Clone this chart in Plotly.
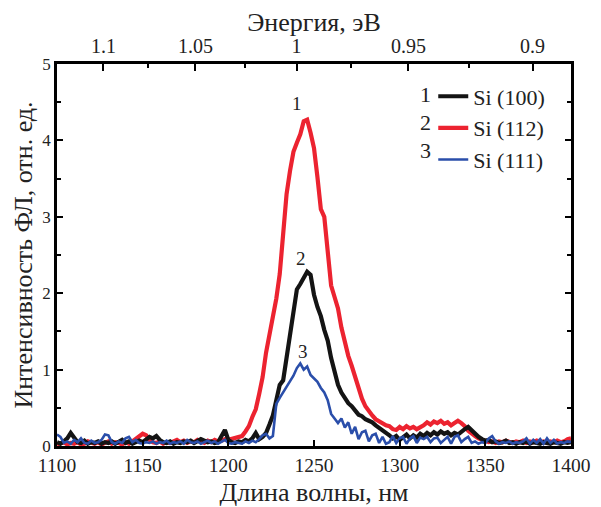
import plotly.graph_objects as go

wavelength = list(range(1100, 1401, 2))

si_100 = [0.05, 0.03, 0.06, 0.1, 0.17, 0.12, 0.05, 0.04, 0.07, 0.03,
          0.05, 0.04, 0.06, 0.03, 0.05, 0.04, 0.06, 0.03, 0.05, 0.08,
          0.04, 0.06, 0.03, 0.05, 0.07, 0.05, 0.08, 0.12, 0.1, 0.13,
          0.08, 0.05, 0.04, 0.06, 0.03, 0.05, 0.04, 0.06, 0.05, 0.07,
          0.04, 0.06, 0.09, 0.07, 0.05, 0.06, 0.04, 0.05, 0.12, 0.21,
          0.08, 0.05, 0.04, 0.06, 0.05, 0.08, 0.06, 0.1, 0.17, 0.09,
          0.12, 0.17, 0.28, 0.4, 0.6, 0.8, 0.86, 1.15, 1.4, 1.72,
          2.05, 2.12, 2.2, 2.28, 2.24, 1.98, 1.82, 1.7, 1.52, 1.38,
          1.15, 0.95, 0.8, 0.7, 0.62, 0.56, 0.52, 0.46, 0.41, 0.39,
          0.35, 0.33, 0.31, 0.27, 0.24, 0.2, 0.18, 0.14, 0.1, 0.13,
          0.08, 0.12, 0.15, 0.1, 0.14, 0.11, 0.16, 0.13, 0.17, 0.14,
          0.18, 0.15, 0.19, 0.16, 0.18, 0.14, 0.17, 0.15, 0.19, 0.22,
          0.25, 0.2, 0.16, 0.12, 0.09, 0.07, 0.08, 0.05, 0.06, 0.04,
          0.05, 0.07, 0.04, 0.05, 0.03, 0.05, 0.04, 0.06, 0.03, 0.05,
          0.04, 0.03, 0.05, 0.04, 0.03, 0.05, 0.04, 0.03, 0.05, 0.04,
          0.05]

si_112 = [0.02, 0.03, 0.05, 0.02, 0.04, 0.03, 0.05, 0.02, 0.03, 0.06,
          0.04, 0.03, 0.05, 0.02, 0.04, 0.06, 0.03, 0.05, 0.04, 0.02,
          0.05, 0.03, 0.06, 0.09, 0.13, 0.16, 0.14, 0.08, 0.05, 0.04,
          0.06, 0.03, 0.05, 0.04, 0.06, 0.08, 0.05, 0.07, 0.04, 0.06,
          0.05, 0.08, 0.06, 0.04, 0.07, 0.05, 0.08, 0.06, 0.07, 0.09,
          0.08, 0.09, 0.1, 0.11, 0.13, 0.19, 0.26, 0.38, 0.48, 0.68,
          0.9, 1.22, 1.45, 1.68, 1.93, 2.25, 2.75, 3.3, 3.6, 3.85,
          3.97, 4.08, 4.25, 4.27, 4.1, 3.9, 3.52, 3.1, 3.0, 2.5,
          2.1, 1.95, 1.8, 1.55, 1.35, 1.18, 1.05, 0.9, 0.75, 0.62,
          0.52, 0.45, 0.4, 0.35, 0.32, 0.3, 0.27, 0.26, 0.22, 0.21,
          0.25, 0.22, 0.26, 0.23, 0.25, 0.22, 0.24, 0.27, 0.31, 0.28,
          0.32, 0.3, 0.33, 0.29, 0.31, 0.27, 0.3, 0.33, 0.3, 0.26,
          0.2, 0.16, 0.13, 0.1, 0.08, 0.07, 0.05, 0.06, 0.04, 0.06,
          0.05, 0.07, 0.05, 0.04, 0.06, 0.05, 0.07, 0.04, 0.06, 0.05,
          0.07, 0.05, 0.06, 0.04, 0.06, 0.05, 0.07, 0.05, 0.06, 0.09,
          0.1]

si_111 = [0.15, 0.12, 0.04, 0.06, 0.03, 0.08, 0.05, 0.1, 0.04, 0.03,
          0.07, 0.04, 0.05, 0.08, 0.15, 0.14, 0.05, 0.03, 0.06, 0.04,
          0.1, 0.12, 0.05, 0.08, 0.04, 0.03, 0.05, 0.04, 0.06, 0.03,
          0.05, 0.04, 0.07, 0.03, 0.05, 0.04, 0.06, 0.03, 0.08, 0.05,
          0.04, 0.06, 0.03, 0.05, 0.07, 0.04, 0.06, 0.03, 0.05, 0.08,
          0.04, 0.03, 0.05, 0.04, 0.03, 0.06, 0.04, 0.07, 0.05, 0.09,
          0.14, 0.16, 0.1, 0.13, 0.55, 0.63, 0.7, 0.78, 0.85, 0.92,
          1.02, 1.08, 1.0, 1.04, 0.93, 0.88, 0.84, 0.76, 0.7, 0.6,
          0.42, 0.36, 0.3, 0.36, 0.24, 0.31, 0.16, 0.25, 0.09, 0.18,
          0.2, 0.06, 0.14, 0.16, 0.04, 0.12, 0.03, 0.05, 0.13, 0.04,
          0.1, 0.12, 0.03, 0.1, 0.13, 0.04, 0.11, 0.09, 0.12, 0.05,
          0.1, 0.11, 0.04, 0.08, 0.12, 0.03, 0.12, 0.14, 0.05, 0.09,
          0.12, 0.04, 0.06, 0.03, 0.05, 0.04, 0.1, 0.13, 0.06, 0.03,
          0.05, 0.04, 0.06, 0.03, 0.05, 0.04, 0.06, 0.1, 0.03, 0.08,
          0.04, 0.09, 0.03, 0.1, 0.04, 0.08, 0.03, 0.05, 0.04, 0.06,
          0.05]

energy_ticks = [1.1, 1.05, 1.0, 0.95, 0.9]
energy_labels = ["1.1", "1.05", "1", "0.95", "0.9"]
energy_minor = [1.075, 1.025, 0.975, 0.925]
HC = 1239.84

series_names = ["Si (100)", "Si (112)", "Si (111)"]
series_nums = ["1", "2", "3"]
peak_labels = [("1", 1240, 4.48), ("2", 1242.4, 2.46), ("3", 1243.5, 1.24)]

FONT = "Liberation Serif"
TXT = "#222222"
BLACK = "#141414"
RED = "#ec2330"
BLUE = "#2a4eaa"

def f(size):
    return dict(family=FONT, size=size, color=TXT)

fig = go.Figure()
fig.add_trace(go.Scatter(x=wavelength, y=si_112, mode="lines", name=series_names[1],
                         line=dict(color=RED, width=4.2), legendrank=2))
fig.add_trace(go.Scatter(x=wavelength, y=si_100, mode="lines", name=series_names[0],
                         line=dict(color=BLACK, width=4.2), legendrank=1))
fig.add_trace(go.Scatter(x=wavelength, y=si_111, mode="lines", name=series_names[2],
                         line=dict(color=BLUE, width=2.6), legendrank=3))
# invisible trace to activate the top (energy) axis
fig.add_trace(go.Scatter(x=[1100, 1400], y=[None, None], xaxis="x2", mode="lines",
                         showlegend=False, hoverinfo="skip"))

for txt, xv, yv in peak_labels:
    fig.add_annotation(x=xv, y=yv, text=txt, showarrow=False, font=f(19))

leg_y = [0.919, 0.846, 0.773]
for num, yy in zip(series_nums, leg_y):
    fig.add_annotation(xref="paper", yref="paper", x=0.732, y=yy, text=num,
                       showarrow=False, xanchor="right", yanchor="middle", font=f(22))

axis_common = dict(showline=True, linecolor="black", linewidth=2.8, ticks="inside",
                   tickcolor="black", tickwidth=2.2, showgrid=False, zeroline=False,
                   automargin=False)

# page body adds an 8px offset, so figure is sized to fill the rest of the window
fig.update_layout(
    width=593, height=499,
    margin=dict(l=49, r=30, t=56, b=61),
    paper_bgcolor="white", plot_bgcolor="white",
    font=f(18),
    xaxis=dict(range=[1100, 1400], tickvals=[1100, 1150, 1200, 1250, 1300, 1350, 1400],
               ticklen=6, tickfont=f(19.5), mirror=False,
               title=dict(text="Длина волны, нм", font=f(26), standoff=9),
               **axis_common),
    xaxis2=dict(range=[1100, 1400], overlaying="x", side="top", anchor="y",
                tickvals=[HC / e for e in energy_ticks], ticktext=energy_labels,
                ticklen=7, tickfont=f(20),
                minor=dict(tickvals=[HC / e for e in energy_minor], ticklen=4,
                           tickcolor="black", tickwidth=2.2, ticks="inside"),
                title=dict(text="Энергия, эВ", font=f(26), standoff=1),
                **axis_common),
    yaxis=dict(range=[0, 5], tickvals=[0, 1, 2, 3, 4, 5], ticklen=6,
               tickfont=f(17), mirror="ticks",
               minor=dict(dtick=0.5, ticklen=4, tickcolor="black", tickwidth=2.2, ticks="inside"),
               title=dict(text="Интенсивность ФЛ, отн. ед.", font=f(26), standoff=3),
               **axis_common),
    legend=dict(x=0.732, y=0.97, xanchor="left", yanchor="top",
                font=f(22), bgcolor="rgba(0,0,0,0)", tracegroupgap=0, itemwidth=30),
    showlegend=True,
)

fig.write_html("out.html")
